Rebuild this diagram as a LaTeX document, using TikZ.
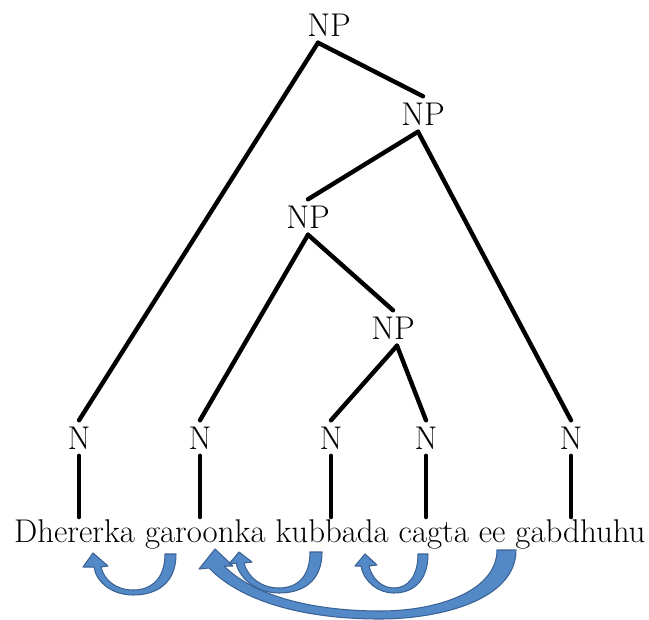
\documentclass[tikz,border=0pt]{standalone}
\usepackage{tikz}
\usetikzlibrary{positioning}
\definecolor{arrowfill}{RGB}{84,137,199}
\definecolor{arrowline}{RGB}{58,98,148}

\begin{document}
\begin{tikzpicture}[
  x=0.02cm, y=-0.02cm,
  every node/.style={font=\fontsize{18.7}{22}\selectfont},
  cat/.style={inner sep=3.5pt},
  branch/.style={line width=2.5pt, line cap=round},
  move/.style={fill=arrowfill, draw=arrowline, line width=0.6pt, line join=round}
]
\useasboundingbox (0,0) rectangle (649,619);

% Phrasal nodes
\node[cat] (NP0) at (329,25) {NP};
\node[cat] (NP1) at (423,114) {NP};
\node[cat] (NP2) at (308,217) {NP};
\node[cat] (NP3) at (393,328) {NP};

% Nouns
\foreach \x/\name in {79/N1, 200/N2, 331/N3, 426/N4, 571/N5} {
  \node[cat] (\name) at (\x,438) {N};
}

% Sentence
\node[inner sep=1pt, anchor=base west] (sent) at (12,542) {Dhererka garoonka kubbada cagta ee gabdhuhu};

% Branches
\draw[branch] ([xshift=-0.22cm]NP0.south) -- (N1.north);
\draw[branch] ([xshift=-0.22cm]NP0.south) -- (NP1.north);
\draw[branch] ([xshift=-0.1cm]NP1.south) -- (NP2.north);
\draw[branch] ([xshift=-0.1cm]NP1.south) -- (N5.north);
\draw[branch] (NP2.south) -- (N2.north);
\draw[branch] (NP2.south) -- (NP3.north);
\draw[branch] ([xshift=0.08cm]NP3.south) -- (N3.north);
\draw[branch] ([xshift=0.08cm]NP3.south) -- (N4.north);
\foreach \name in {N1,N2,N3,N4,N5}
  \draw[branch] (\name.south) -- (\name.south |- sent.north);

% Movement arrows
\filldraw[move] (497,550) -- (516,550)
  .. controls (516,600) and (440,619) .. (380,619)
  .. controls (300,619) and (240,600) .. (209,568)
  -- (199,569) -- (215,549) -- (233,566) -- (224,566)
  .. controls (255,597) and (315,611) .. (380,611)
  .. controls (440,611) and (497,590) .. (497,550) -- cycle;
\filldraw[move] (165,554) -- (176,554)
  .. controls (176,584) and (156,595) .. (133,595)
  .. controls (112,595) and (96,582) .. (94,567)
  -- (83,567) -- (93,553) -- (108,566) -- (101,567)
  .. controls (104,580) and (116,590) .. (133,590)
  .. controls (152,590) and (165,578) .. (165,554) -- cycle;
\filldraw[move] (310,552) -- (322,552)
  .. controls (322,582) and (302,593) .. (279,593)
  .. controls (258,593) and (240,580) .. (236,563)
  -- (229,564) -- (239,552) -- (252,562) -- (244,563)
  .. controls (248,578) and (262,588) .. (279,588)
  .. controls (298,588) and (310,576) .. (310,552) -- cycle;
\filldraw[move] (418,554) -- (428,554)
  .. controls (428,582) and (412,593) .. (394,593)
  .. controls (378,593) and (364,582) .. (361,566)
  -- (355,566) -- (365,554) -- (377,565) -- (369,566)
  .. controls (372,579) and (382,588) .. (394,588)
  .. controls (408,588) and (418,576) .. (418,554) -- cycle;
\end{tikzpicture}
\end{document}
